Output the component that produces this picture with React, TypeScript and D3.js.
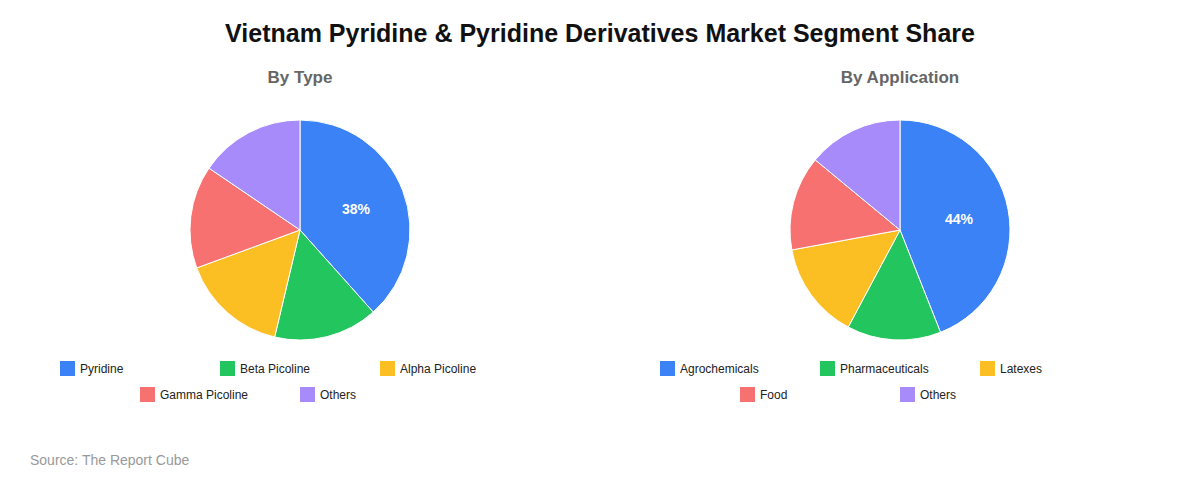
import React from "react";
import * as d3 from "d3";

const typeLabels = ["Pyridine", "Beta Picoline", "Alpha Picoline", "Gamma Picoline", "Others"];
const typeValues = [38.4, 15.3, 15.7, 15.1, 15.5];
const appLabels = ["Agrochemicals", "Pharmaceuticals", "Latexes", "Food", "Others"];
const appValues = [44, 13.8, 14.3, 13.9, 14.0];
const colors = ["#3b82f6", "#22c55e", "#fbbf24", "#f87171", "#a78bfa"];

const FONT = "'Liberation Sans', Arial, Helvetica, sans-serif";

function Pie({ cx, title, labels, values }: { cx: number; title: string; labels: string[]; values: number[] }) {
  const cy = 230;
  const r = 110;
  const pie = d3.pie<number>().sort(null).value((d) => d);
  const arcs = pie(values);
  const arc = d3.arc<d3.PieArcDatum<number>>().innerRadius(0).outerRadius(r);
  const labelArc = d3.arc<d3.PieArcDatum<number>>().innerRadius(60).outerRadius(60);
  const total = d3.sum(values);
  const colW = 160;
  const rows = [labels.slice(0, 3), labels.slice(3)];
  return (
    <g>
      <text x={cx} y={83} textAnchor="middle" fontFamily={FONT} fontSize={17} fontWeight="bold" fill="#666">
        {title}
      </text>
      <g transform={`translate(${cx},${cy})`}>
        {arcs.map((a, i) => (
          <path key={i} d={arc(a) || ""} fill={colors[i]} stroke="#fff" strokeWidth={1} />
        ))}
        {arcs.map((a, i) => {
          const pct = (a.data / total) * 100;
          if (pct < 20) return null;
          const [x, y] = labelArc.centroid(a);
          return (
            <text key={i} x={x} y={y} textAnchor="middle" dominantBaseline="central" fontFamily={FONT} fontSize={14} fontWeight="bold" fill="#fff">
              {Math.round(pct)}%
            </text>
          );
        })}
      </g>
      {rows.map((row, ri) => {
        const start = cx - (row.length * colW) / 2;
        return row.map((lab, j) => {
          const idx = ri * 3 + j;
          const x = start + j * colW;
          const y = 361 + ri * 26;
          return (
            <g key={lab + ri}>
              <rect x={x} y={y} width={15} height={15} fill={colors[idx]} />
              <text x={x + 20} y={y + 12} fontFamily={FONT} fontSize={12} fill="#222">
                {lab}
              </text>
            </g>
          );
        });
      })}
    </g>
  );
}

export default function App() {
  return (
    <svg width={1200} height={480} style={{ position: "absolute", left: 0, top: 0, background: "#fff" }}>
      <rect width={1200} height={480} fill="#fff" />
      <text x={600} y={42} textAnchor="middle" fontFamily={FONT} fontSize={25} fontWeight="bold" fill="#111">
        Vietnam Pyridine &amp; Pyridine Derivatives Market Segment Share
      </text>
      <Pie cx={300} title="By Type" labels={typeLabels} values={typeValues} />
      <Pie cx={900} title="By Application" labels={appLabels} values={appValues} />
      <text x={30} y={465} fontFamily={FONT} fontSize={14} fill="#999">
        Source: The Report Cube
      </text>
    </svg>
  );
}
